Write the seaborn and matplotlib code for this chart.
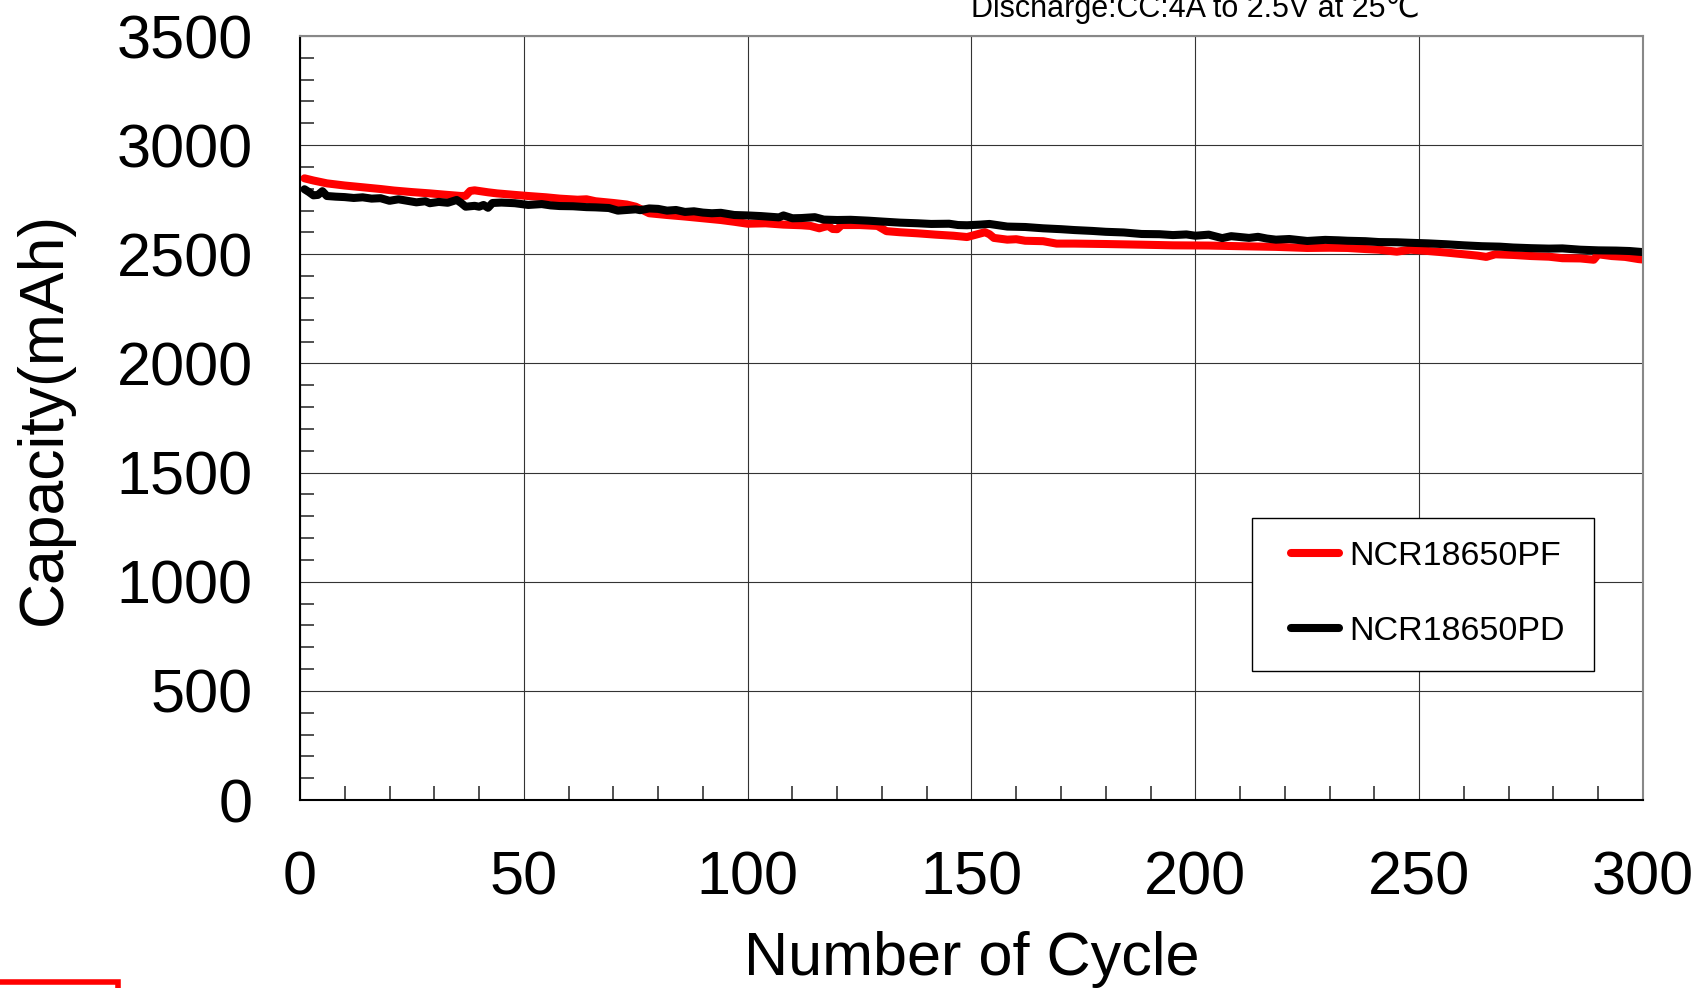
import matplotlib
matplotlib.use('Agg')
import matplotlib.pyplot as plt
import matplotlib.patches as patches
from matplotlib.ticker import MultipleLocator
import seaborn as sns

# NCR18650PF capacity (mAh) vs cycle
pf_cycles = [1, 3, 6, 10, 14, 18, 21, 25, 29, 33, 36, 37, 38, 39, 42, 44, 48, 51, 55, 58,
             62, 64, 66, 70, 73, 75, 78, 82, 86, 90, 94, 97, 100, 104, 108, 112, 114, 116, 117, 118,
             119, 120, 121, 125, 129, 131, 134, 138, 142, 146, 149, 151, 153, 154, 155, 158, 160, 162, 166, 169,
             173, 180, 188, 195, 203, 210, 218, 225, 230, 234, 238, 241, 245, 248, 252, 256, 260, 263, 265, 267,
             271, 275, 279, 282, 286, 289, 290, 293, 296, 299, 300]
pf_capacity = [2848, 2838, 2825, 2815, 2807, 2799, 2792, 2785, 2779, 2772, 2767, 2768, 2790, 2793, 2784, 2779, 2772, 2767, 2761, 2755,
               2750, 2752, 2743, 2735, 2728, 2718, 2688, 2680, 2673, 2665, 2657, 2649, 2640, 2642, 2636, 2633, 2630, 2619, 2625, 2630,
               2616, 2615, 2634, 2634, 2630, 2606, 2601, 2596, 2590, 2585, 2579, 2590, 2601, 2592, 2575, 2567, 2569, 2562, 2560, 2549,
               2549, 2547, 2544, 2541, 2540, 2537, 2534, 2529, 2530, 2529, 2524, 2521, 2512, 2521, 2515, 2508, 2500, 2494, 2488, 2500,
               2497, 2492, 2489, 2482, 2481, 2475, 2500, 2492, 2488, 2478, 2476]

# NCR18650PD capacity (mAh) vs cycle
pd_cycles = [1, 2, 3, 4, 5, 6, 8, 10, 12, 14, 16, 18, 20, 22, 24, 26, 28, 29, 31, 33,
             35, 36, 37, 39, 40, 41, 42, 43, 45, 48, 51, 54, 56, 58, 61, 64, 66, 69, 71, 73,
             75, 76, 78, 80, 82, 84, 86, 88, 90, 92, 94, 97, 100, 103, 105, 107, 108, 110, 112, 115,
             117, 120, 123, 127, 130, 134, 138, 141, 145, 147, 149, 152, 154, 158, 162, 166, 170, 173, 177, 180,
             184, 188, 192, 195, 198, 200, 203, 206, 208, 212, 214, 216, 218, 221, 225, 229, 232, 234, 238, 241,
             245, 249, 252, 256, 260, 264, 268, 271, 275, 279, 282, 286, 290, 294, 297, 300]
pd_capacity = [2798, 2785, 2770, 2772, 2789, 2767, 2764, 2762, 2758, 2761, 2755, 2757, 2745, 2752, 2745, 2738, 2743, 2734, 2740, 2736,
               2749, 2735, 2718, 2722, 2718, 2726, 2713, 2735, 2737, 2734, 2726, 2730, 2724, 2721, 2720, 2716, 2715, 2712, 2700, 2703,
               2706, 2702, 2710, 2708, 2700, 2703, 2694, 2697, 2691, 2688, 2690, 2680, 2678, 2675, 2672, 2669, 2678, 2665, 2666, 2670,
               2659, 2657, 2658, 2654, 2650, 2645, 2642, 2639, 2640, 2634, 2633, 2636, 2639, 2627, 2625, 2619, 2615, 2611, 2607, 2603,
               2600, 2593, 2592, 2588, 2591, 2585, 2590, 2574, 2583, 2575, 2580, 2572, 2567, 2570, 2561, 2566, 2564, 2562, 2560, 2556,
               2555, 2552, 2550, 2546, 2541, 2537, 2535, 2531, 2528, 2526, 2527, 2521, 2518, 2517, 2515, 2510]

x_ticks = [0, 50, 100, 150, 200, 250, 300]
y_ticks = [0, 500, 1000, 1500, 2000, 2500, 3000, 3500]

sns.set_theme(style='white')
plt.rcParams['font.family'] = ['Liberation Sans', 'DejaVu Sans']
plt.rcParams['text.color'] = 'black'
plt.rcParams['axes.labelcolor'] = 'black'

fig = plt.figure(figsize=(16.95, 9.88), dpi=100)
ax = fig.add_axes([0.17699, 0.19028, 0.79233, 0.77328])

line_kw = dict(lw=5.8, solid_joinstyle='round', solid_capstyle='round', ax=ax)
sns.lineplot(x=pf_cycles, y=pf_capacity, color='#ff0000', label='NCR18650PF', **line_kw)
sns.lineplot(x=pd_cycles, y=pd_capacity, color='black', label='NCR18650PD', **line_kw)

ax.set_xlim(0, 300)
ax.set_ylim(0, 3500)
ax.set_xticks(x_ticks)
ax.set_yticks(y_ticks)
ax.xaxis.set_minor_locator(MultipleLocator(10))
ax.yaxis.set_minor_locator(MultipleLocator(100))
ax.grid(True, which='major', color='#333333', lw=0.8)
ax.tick_params(axis='both', which='both', direction='in', colors='#333333',
               labelcolor='black', width=1.2)
ax.tick_params(axis='both', which='minor', length=10, bottom=True, left=True)
ax.tick_params(axis='both', which='major', length=10, labelsize=44)
ax.tick_params(axis='x', which='major', pad=36)
ax.tick_params(axis='y', which='major', pad=34)

for side in ['left', 'bottom']:
    ax.spines[side].set_color('black')
    ax.spines[side].set_linewidth(1.5)
for side in ['top', 'right']:
    ax.spines[side].set_color('#888888')
    ax.spines[side].set_linewidth(1.5)

ax.set_xlabel('Number of Cycle', fontsize=44, labelpad=17.5)
ax.set_ylabel('Capacity(mAh)', fontsize=45, labelpad=31)

# legend box drawn separately so the padding can match the reference
ax.add_patch(patches.Rectangle((0.7086, 0.1688), 0.2549, 0.1999, transform=ax.transAxes,
                               facecolor='white', edgecolor='black', lw=1, zorder=4))
leg = ax.legend(loc='upper left', bbox_to_anchor=(0.7377, 0.3395), borderaxespad=0,
                borderpad=0, fontsize=24.5, handlelength=1.42, handletextpad=0.29,
                labelspacing=1.3, frameon=False)
leg.set_zorder(5)

fig.text(1195 / 1695, 1 - 17 / 988, 'Discharge:CC:4A to 2.5V at 25℃', fontsize=22,
         ha='center', va='baseline')

# red box edge peeking in at the lower left corner
fig.patches.append(patches.Rectangle((-0.05, -0.05), 0.05 + 118 / 1695, 0.05 + 6 / 988,
                                     transform=fig.transFigure, fill=False,
                                     edgecolor='#ff0000', lw=4, clip_on=False))

fig.savefig('out.png', dpi=100)
